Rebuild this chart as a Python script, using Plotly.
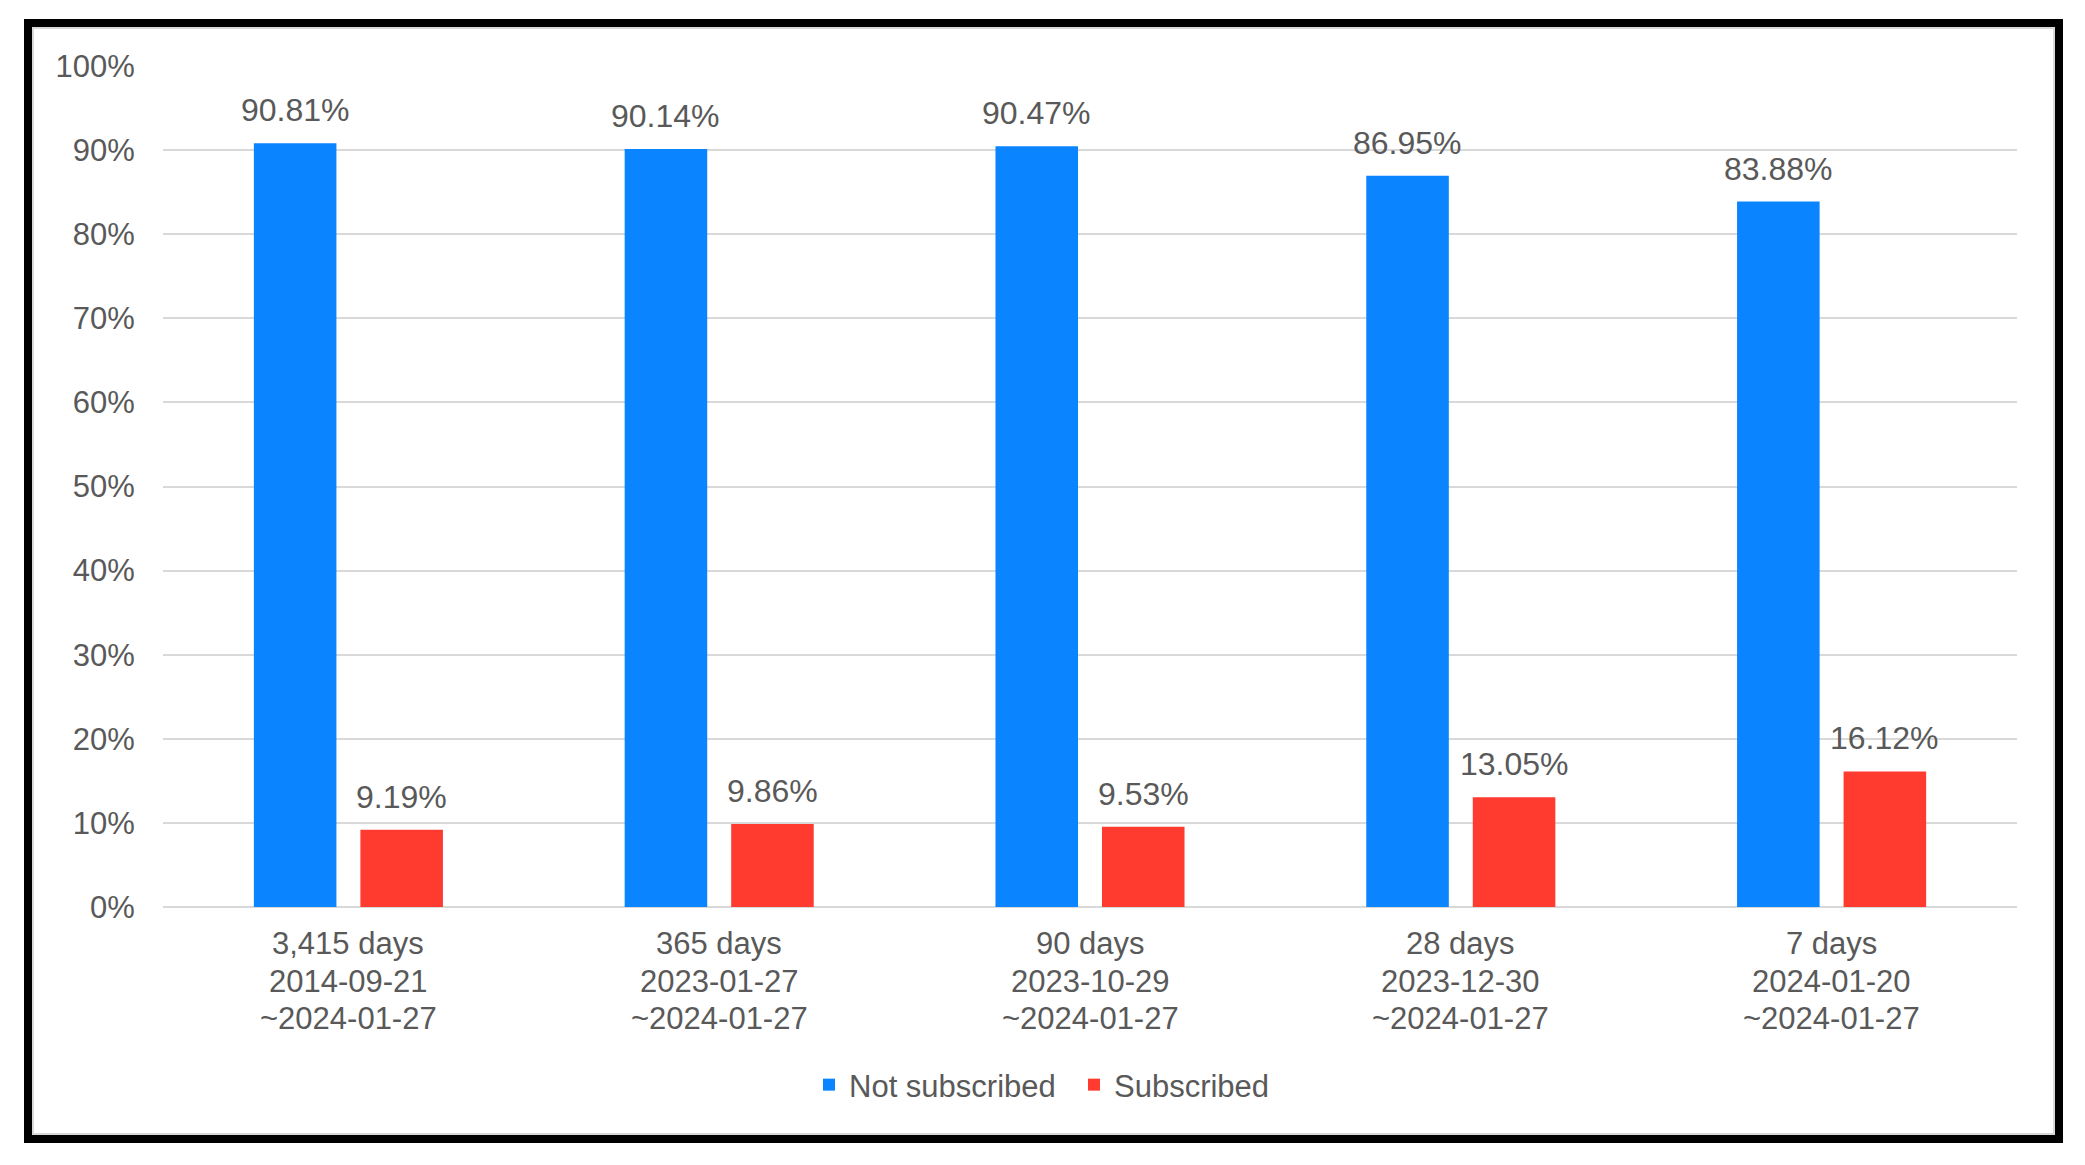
import plotly.graph_objects as go

# ---- data ----
periods = ["3,415 days", "365 days", "90 days", "28 days", "7 days"]
start_dates = ["2014-09-21", "2023-01-27", "2023-10-29", "2023-12-30", "2024-01-20"]
end_dates = ["~2024-01-27", "~2024-01-27", "~2024-01-27", "~2024-01-27", "~2024-01-27"]
not_subscribed = [90.81, 90.14, 90.47, 86.95, 83.88]
subscribed = [9.19, 9.86, 9.53, 13.05, 16.12]
series_names = ["Not subscribed", "Subscribed"]
y_ticks = [0, 10, 20, 30, 40, 50, 60, 70, 80, 90, 100]

# ---- style ----
W, H = 2085, 1165
ML, MR, MT, MB = 163, 68, 66, 258
PLOT_W = W - ML - MR
PLOT_H = H - MT - MB
BARGAP = 0.4255
BARGROUPGAP = 0.225
BLUE = "#0A84FF"
RED = "#FF3B30"
TEXT = "#595959"
GRID = "#D9D9D9"
FONT = "Liberation Sans, Arial, sans-serif"
LABEL_LINE_SHIFTS = [-36, -74, -111]

categories = [f"{p}<br>{s}<br>{e}" for p, s, e in zip(periods, start_dates, end_dates)]

fig = go.Figure()
fig.add_trace(go.Bar(name=series_names[0], x=categories, y=not_subscribed,
                     marker=dict(color=BLUE, line=dict(width=0))))
fig.add_trace(go.Bar(name=series_names[1], x=categories, y=subscribed,
                     marker=dict(color=RED, line=dict(width=0))))

# data labels as annotations above each bar
cat_px = PLOT_W / len(categories)
slot_px = cat_px * (1 - BARGAP) / 2
for vals, sign in ((not_subscribed, -1), (subscribed, 1)):
    for c, v in zip(categories, vals):
        fig.add_annotation(x=c, y=v, xref="x", yref="y", text=f"{v:.2f}%",
                           showarrow=False, yanchor="bottom", xanchor="center",
                           xshift=sign * slot_px / 2, yshift=13,
                           font=dict(family=FONT, size=32, color=TEXT))

# category labels (three lines, tighter line spacing than plotly's tick labels)
for c, p, s, e in zip(categories, periods, start_dates, end_dates):
    for line, shift in zip((p, s, e), LABEL_LINE_SHIFTS):
        fig.add_annotation(x=c, y=0, xref="x", yref="paper", text=line,
                           showarrow=False, yanchor="middle", xanchor="center",
                           yshift=shift,
                           font=dict(family=FONT, size=31, color=TEXT))


def px_x(p):
    return (p - ML) / PLOT_W


def px_y(p):
    return (H - MB - p) / PLOT_H


# outer black frame and thin inner grey frame
fig.add_shape(type="rect", xref="paper", yref="paper",
              x0=px_x(28), x1=px_x(2059), y0=px_y(1139), y1=px_y(23),
              line=dict(color="black", width=8), fillcolor="rgba(0,0,0,0)", layer="above")
fig.add_shape(type="rect", xref="paper", yref="paper",
              x0=px_x(33), x1=px_x(2054), y0=px_y(1134), y1=px_y(28),
              line=dict(color=GRID, width=2), fillcolor="rgba(0,0,0,0)", layer="above")

fig.update_layout(
    width=W, height=H,
    margin=dict(l=ML, r=MR, t=MT, b=MB, pad=0),
    paper_bgcolor="white", plot_bgcolor="white",
    barmode="group", bargap=BARGAP, bargroupgap=BARGROUPGAP,
    font=dict(family=FONT, size=31, color=TEXT),
    showlegend=True,
    legend=dict(orientation="h", x=px_x(1074), xanchor="center",
                y=px_y(1085), yanchor="middle", yref="paper",
                font=dict(family=FONT, size=31, color=TEXT),
                entrywidth=220, bgcolor="rgba(0,0,0,0)"),
    hovermode=False,
)
fig.update_xaxes(type="category", showgrid=False, showline=False, zeroline=False,
                 showticklabels=False, ticks="")
fig.update_yaxes(range=[0, 100], tickvals=y_ticks, ticktext=[f"{t}%" for t in y_ticks],
                 showgrid=True, gridcolor=GRID, gridwidth=2,
                 zeroline=True, zerolinecolor=GRID, zerolinewidth=2,
                 showline=False, ticks="outside", ticklen=21, tickcolor="rgba(0,0,0,0)",
                 tickfont=dict(family=FONT, size=31, color=TEXT))

fig.write_html("out.html", config={"displayModeBar": False},
               post_script="document.body.style.margin='0';document.body.style.overflow='hidden';")
